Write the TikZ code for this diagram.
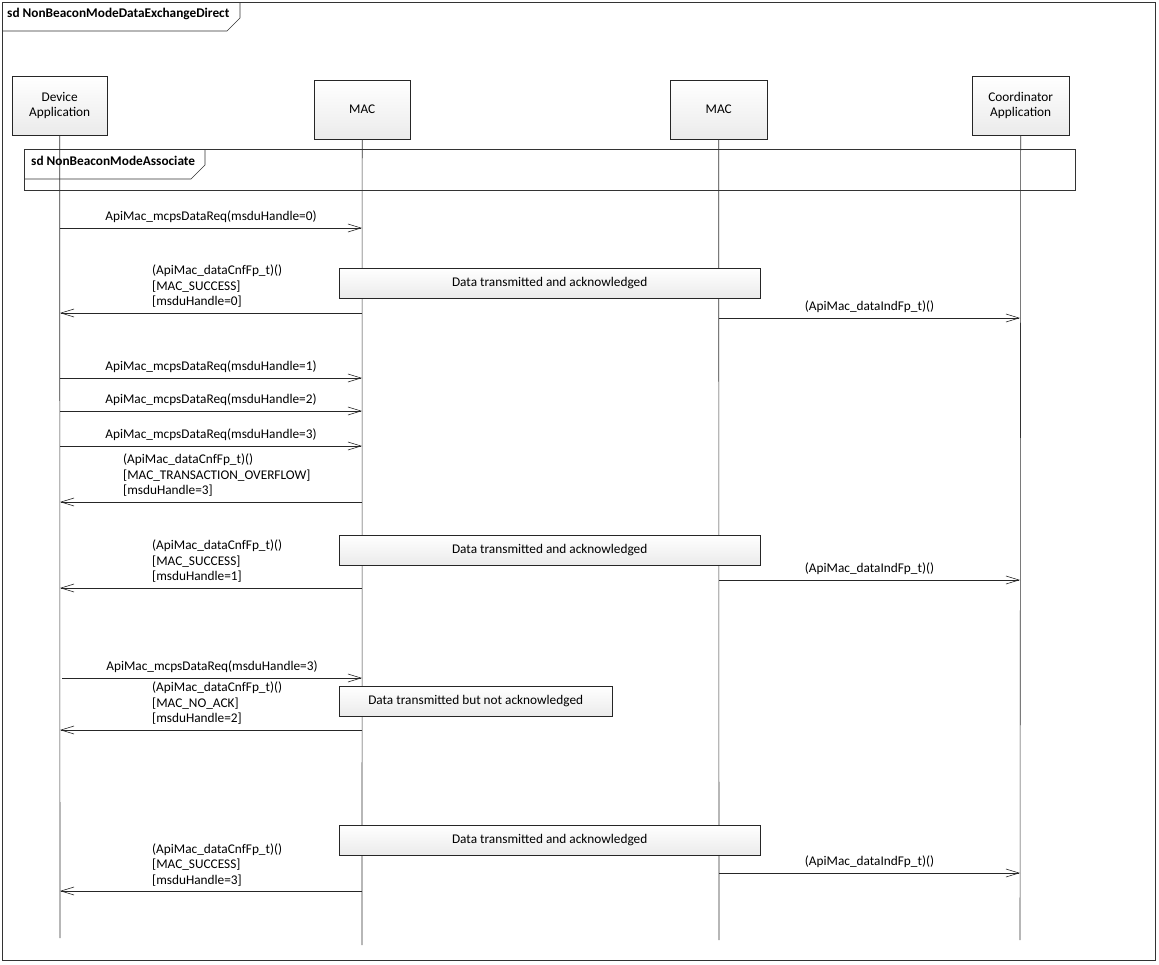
\documentclass[tikz,border=0pt]{standalone}
\usepackage{fontspec}
\setmainfont{Carlito}
\usetikzlibrary{arrows.meta}
\begin{document}
\begin{tikzpicture}[x=1pt,y=-1pt,font=\fontsize{13.3}{15.5}\selectfont,
  lifebox/.style={draw=black!85,top color=white,bottom color=black!8,minimum width=96pt,minimum height=59pt,align=center,anchor=north west,inner sep=0pt},
  actbox/.style={draw=black!85,top color=white,bottom color=black!8,minimum height=30pt,anchor=north west,inner sep=0pt},
  life/.style={draw=black!80,line width=0.6pt},
  msg/.style={draw=black!85,line width=0.6pt,-{Straight Barb[length=13pt,width=8pt,line width=0.6pt]}},
  lbl/.style={inner sep=0pt,align=left,anchor=north west},
  frm/.style={draw=black!80,line width=0.6pt}]
\useasboundingbox (0,0) rectangle (1159,964);
\fill[white] (0,0) rectangle (1159,964);
% outer frame
\draw[frm] (2,2) rectangle (1155,960);
\draw[frm] (2,31) -- (227,31) -- (240,18) -- (240,2);
\node[lbl,font=\fontsize{13.3}{15}\selectfont\bfseries] (t1) at (7,8) {sd NonBeaconModeDataExchangeDirect};
% lifeline heads
\node[lifebox,minimum width=95pt] (da) at (12,76) {Device\\Application};
\node[lifebox] (m1) at (314,80) {MAC};
\node[lifebox,minimum width=97pt] (m2) at (670,80) {MAC};
\node[lifebox,minimum width=97pt] (ca) at (972,76) {Coordinator\\Application};
\coordinate (daE) at (60,938);
\coordinate (m1E) at (362,945);
\coordinate (m2E) at (719,940);
\coordinate (caE) at (1020,940);
\draw[life] (da.south) -- (daE);
\draw[life] (m1.south) -- (m1E);
\draw[life] (m2.south) -- (m2E);
\draw[life] (ca.south) -- (caE);
% inner frame
\draw[frm] (24,149) rectangle (1075,190);
\draw[frm] (24,179) -- (191,179) -- (205,165) -- (205,149);
\node[lbl,font=\fontsize{13.3}{15}\selectfont\bfseries] (t2) at (31,156) {sd NonBeaconModeAssociate};
% activity boxes
\node[actbox,minimum width=421pt] (b1) at (339,268) {Data transmitted and acknowledged};
\node[actbox,minimum width=421pt] (b2) at (339,535) {Data transmitted and acknowledged};
\node[actbox,minimum width=273pt] (b3) at (339,686) {Data transmitted but not acknowledged};
\node[actbox,minimum width=421pt] (b4) at (339,825) {Data transmitted and acknowledged};
% messages
\foreach \y/\h in {228/0,378/1,411/2,446/3}{
  \coordinate (s\y) at (60,\y); \coordinate (e\y) at (362,\y);
  \draw[msg] (s\y) -- node[above=5pt,inner sep=0pt] {ApiMac\_mcpsDataReq(msduHandle=\h)} (e\y);
}
\coordinate (s678) at (62,678); \coordinate (e678) at (362,678);
\draw[msg] (s678) -- node[above=5pt,inner sep=0pt] {ApiMac\_mcpsDataReq(msduHandle=3)} (e678);
% returns
\foreach \y/\x/\t/\ly in {313/152/{MAC\_SUCCESS}/{msduHandle=0}, 502/123/{MAC\_TRANSACTION\_OVERFLOW}/{msduHandle=3}, 588/152/{MAC\_SUCCESS}/{msduHandle=1}, 730/152/{MAC\_NO\_ACK}/{msduHandle=2}, 891/152/{MAC\_SUCCESS}/{msduHandle=3}}{
  \coordinate (rs\y) at (362,\y); \coordinate (re\y) at (60,\y);
  \draw[msg] (rs\y) -- (re\y);
  \node[lbl,anchor=south west] (rl\y) at (\x,\y-5) {(ApiMac\_dataCnfFp\_t)()\\{}[\t]\\{}[\ly]};
}
% indications
\foreach \y in {318,580,873}{
  \coordinate (is\y) at (719,\y); \coordinate (ie\y) at (1020,\y);
  \draw[msg] (is\y) -- node[above=5pt,inner sep=0pt] {(ApiMac\_dataIndFp\_t)()} (ie\y);
}
\end{tikzpicture}
\end{document}
